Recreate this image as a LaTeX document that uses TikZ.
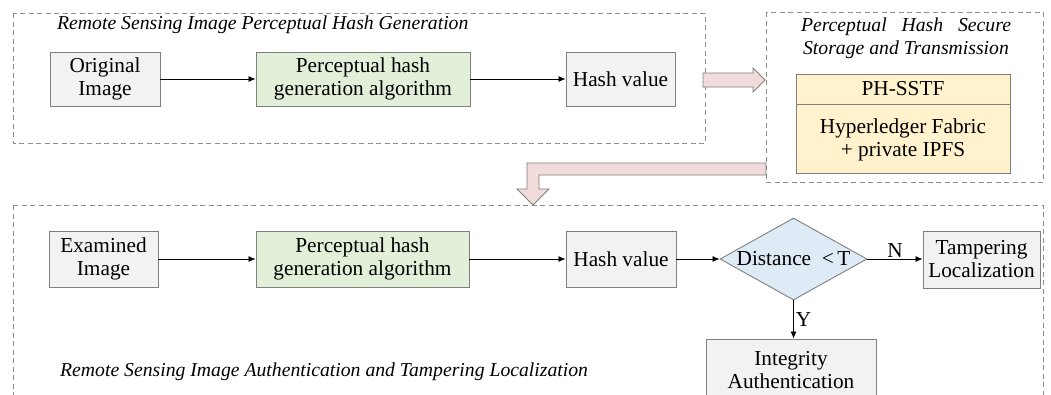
\documentclass[tikz,border=0pt]{standalone}
\usepackage{fontspec}
\setmainfont{Liberation Serif}
\usetikzlibrary{arrows.meta,shapes.geometric,calc}

\definecolor{edgegray}{HTML}{7F7F7F}
\definecolor{boxfill}{HTML}{F2F2F2}
\definecolor{algfill}{HTML}{E2F0D9}
\definecolor{storefill}{HTML}{FFF2CC}
\definecolor{decfill}{HTML}{DEEBF7}
\definecolor{flowfill}{HTML}{F2DCDB}
\definecolor{framegray}{HTML}{8C8C8C}

\tikzset{
  boxtext/.style={font=\fontsize{21.3}{23}\selectfont},
  plainbox/.style={boxtext, draw=edgegray, line width=0.9pt, fill=boxfill,
    align=center, inner sep=0pt},
  algbox/.style={plainbox, fill=algfill},
  storebox/.style={plainbox, fill=storefill},
  decision/.style={shape=diamond, draw=edgegray, line width=0.9pt,
    fill=decfill, inner sep=0pt},
  frame/.style={draw=framegray, line width=0.9pt, dash pattern=on 5pt off 3.5pt},
  titletext/.style={font=\fontsize{19.7}{23}\selectfont\itshape, inner sep=0pt},
  flow/.style={-{Latex[length=7pt,width=6pt]}, line width=0.8pt},
  bigarrow/.style={draw=edgegray, line width=0.8pt, fill=flowfill},
  lbl/.style={boxtext, inner sep=0pt},
}

\begin{document}
\begin{tikzpicture}[x=1pt,y=-1pt]
\useasboundingbox (0,0) rectangle (1051,394);

% dashed stage frames
\draw[frame] (13,13) rectangle (705,143);
\draw[frame] (766,12) rectangle (1043,182);
\draw[frame] (13,205) -- (1043,205) -- (1043,400);
\draw[frame] (13,205) -- (13,400);

% stage titles
\node[titletext, anchor=west] (t1) at (57,25) {Remote Sensing Image Perceptual Hash Generation};
\node[titletext, align=center] (t2) at (906,38.5)
  {\makebox[210pt][s]{Perceptual Hash Secure}\\Storage and Transmission};
\node[titletext, anchor=west] (t3) at (60,372) {Remote Sensing Image Authentication and Tampering Localization};

% generation stage
\node[plainbox, minimum width=110pt, minimum height=54pt] (orig) at (105,79) {Original\\Image};
\node[algbox, minimum width=214pt, minimum height=54pt] (alg) at (363,79) {Perceptual hash\\generation algorithm};
\node[plainbox, minimum width=109pt, minimum height=54pt] (hash) at (620.5,79) {Hash value};
\draw[flow] (orig) -- (alg);
\draw[flow] (alg) -- (hash);

% storage stage
\node[storebox, minimum width=214pt, minimum height=30pt] (sstf) at (903,89) {PH-SSTF};
\node[storebox, minimum width=214pt, minimum height=69pt, anchor=north] (fabric) at (sstf.south)
  {Hyperledger Fabric\\+ private IPFS};

% block arrows between stages
\draw[bigarrow] (703,73) -- (753,73) -- (753,68) -- (765,80) -- (753,92) -- (753,87) -- (703,87) -- cycle;
\draw[bigarrow] (766,163) -- (527,163) -- (527,189) -- (517,189) -- (533,205)
  -- (549,189) -- (539,189) -- (539,175) -- (766,175) -- cycle;

% authentication stage
\node[plainbox, minimum width=109pt, minimum height=56pt] (exam) at (103.5,259) {Examined\\Image};
\node[algbox, minimum width=213pt, minimum height=56pt] (alg2) at (362.5,259) {Perceptual hash\\generation algorithm};
\node[plainbox, minimum width=110pt, minimum height=56pt] (hash2) at (621,259) {Hash value};
\node[decision, minimum width=147pt, minimum height=82pt, aspect=1.8] (dist) at (793.5,259) {};
\node[lbl] (disttext) at (dist.center) {Distance\ \ <\,T};
\node[plainbox, minimum width=117pt, minimum height=57pt] (tamp) at (981.5,259.5) {Tampering\\Localization};
\node[plainbox, minimum width=170pt, minimum height=62pt] (integ) at (791,370) {Integrity\\Authentication};

\draw[flow] (exam) -- (alg2);
\draw[flow] (alg2) -- (hash2);
\draw[flow] (hash2) -- (dist);
\draw[flow] (dist.east) -- (dist.east -| tamp.west) node[lbl, midway, above=1pt] (nlbl) {N};
\draw[flow] (dist.south) -- (dist.south |- integ.north) node[lbl, midway, right=2pt] (ylbl) {Y};
\end{tikzpicture}
\end{document}
